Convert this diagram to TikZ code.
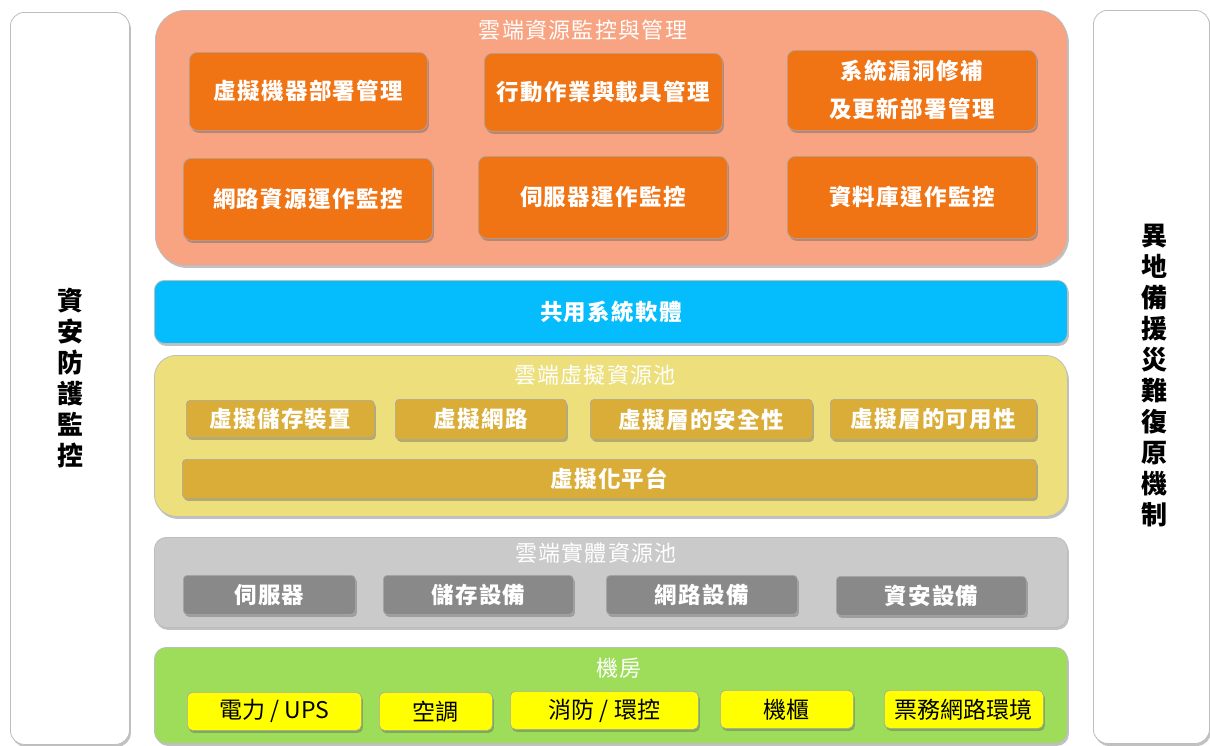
\documentclass[tikz,border=0pt]{standalone}
\usepackage{fontspec}
\newfontfamily\cjk[LetterSpace=6]{Noto Sans CJK TC}
\newfontfamily\cjkplain{Noto Sans CJK TC}
\usetikzlibrary{shadows}
\definecolor{panelline}{HTML}{BDBDBD}
\definecolor{boxline}{HTML}{A8A8A8}
\definecolor{mgmtouter}{HTML}{F8A381}
\definecolor{mgmtinner}{HTML}{F07414}
\definecolor{sharedsw}{HTML}{05BCFC}
\definecolor{virtouter}{HTML}{ECDF7C}
\definecolor{virtinner}{HTML}{D9AD37}
\definecolor{physouter}{HTML}{CACACA}
\definecolor{physinner}{HTML}{898989}
\definecolor{roomouter}{HTML}{9DDD5A}
\definecolor{roominner}{HTML}{FFFF00}
\tikzset{
  shade box/.style={drop shadow={shadow xshift=1.5pt,shadow yshift=-2.5pt,opacity=0.35,fill=black!70}},
  panel/.style={draw=panelline,line width=0.8pt,shade box,inner sep=0,anchor=north west},
  tile/.style={draw=boxline,line width=0.7pt,rounded corners=8pt,shade box,inner sep=0,
    anchor=north west,font=\cjk\bfseries\fontsize{22.5}{26}\selectfont,text=white,align=center},
  roomtile/.style={tile,fill=roominner,text=black,rounded corners=5pt,
    font=\cjkplain\fontsize{23}{27}\selectfont},
  paneltitle/.style={text=white,font=\cjk\fontsize{22}{26}\selectfont,inner sep=0},
  sidetext/.style={font=\cjk\bfseries\fontsize{26}{31}\selectfont,align=center,inner sep=0}
}
\begin{document}
\begin{tikzpicture}[x=1pt,y=-1pt]
\useasboundingbox (0,0) rectangle (1210,745);
% side columns
\node[panel,fill=white,rounded corners=14pt,minimum width=119pt,minimum height=732pt] (secbox) at (10,12) {};
\node[panel,fill=white,rounded corners=14pt,minimum width=116pt,minimum height=733pt] (drbox) at (1093,10) {};
\node[sidetext] (sectext) at (70,378) {資\\安\\防\\護\\監\\控};
\node[sidetext] (drtext) at (1154,376) {異\\地\\備\\援\\災\\難\\復\\原\\機\\制};
% cloud resource monitoring and management
\node[panel,fill=mgmtouter,rounded corners=30pt,minimum width=912pt,minimum height=255pt] (mgmt) at (155,10) {};
\node[paneltitle] (mgmttitle) at (583,30) {雲端資源監控與管理};
\node[tile,fill=mgmtinner,minimum width=238pt,minimum height=78pt] (vmdeploy) at (189,52) {虛擬機器部署管理};
\node[tile,fill=mgmtinner,minimum width=238pt,minimum height=78pt] (mobile) at (484,53) {行動作業與載具管理};
\node[tile,fill=mgmtinner,minimum width=249pt,minimum height=80pt,font=\cjk\bfseries\fontsize{22.5}{38}\selectfont] (patch) at (787,50) {系統漏洞修補\\及更新部署管理};
\node[tile,fill=mgmtinner,minimum width=249pt,minimum height=82pt] (netmon) at (183,158) {網路資源運作監控};
\node[tile,fill=mgmtinner,minimum width=249pt,minimum height=82pt] (srvmon) at (478,156) {伺服器運作監控};
\node[tile,fill=mgmtinner,minimum width=249pt,minimum height=82pt] (dbmon) at (787,156) {資料庫運作監控};
% shared system software
\node[panel,fill=sharedsw,rounded corners=10pt,minimum width=913pt,minimum height=63pt,
  font=\cjk\bfseries\fontsize{22.5}{26}\selectfont,text=white] (shared) at (154,280) {共用系統軟體};
% cloud virtual resource pool
\node[panel,fill=virtouter,rounded corners=22pt,minimum width=913pt,minimum height=161pt] (virt) at (154,355) {};
\node[paneltitle] (virttitle) at (595,375) {雲端虛擬資源池};
\node[tile,fill=virtinner,rounded corners=4pt,minimum width=188pt,minimum height=37pt] (vstore) at (186,400) {虛擬儲存裝置};
\node[tile,fill=virtinner,rounded corners=4pt,minimum width=171pt,minimum height=40pt] (vnet) at (395,399) {虛擬網路};
\node[tile,fill=virtinner,rounded corners=4pt,minimum width=222pt,minimum height=40pt] (vsec) at (590,399) {虛擬層的安全性};
\node[tile,fill=virtinner,rounded corners=4pt,minimum width=206pt,minimum height=40pt] (vavail) at (830,399) {虛擬層的可用性};
\node[tile,fill=virtinner,rounded corners=4pt,minimum width=854pt,minimum height=39pt] (vplat) at (182,459) {虛擬化平台};
% cloud physical resource pool
\node[panel,fill=physouter,rounded corners=12pt,minimum width=913pt,minimum height=90pt] (phys) at (154,537) {};
\node[paneltitle] (phystitle) at (596,553) {雲端實體資源池};
\node[tile,fill=physinner,rounded corners=4pt,minimum width=172pt,minimum height=39pt] (server) at (183,575) {伺服器};
\node[tile,fill=physinner,rounded corners=4pt,minimum width=190pt,minimum height=39pt] (storage) at (383,575) {儲存設備};
\node[tile,fill=physinner,rounded corners=4pt,minimum width=191pt,minimum height=39pt] (network) at (606,575) {網路設備};
\node[tile,fill=physinner,rounded corners=4pt,minimum width=190pt,minimum height=39pt] (security) at (836,576) {資安設備};
% machine room
\node[panel,fill=roomouter,rounded corners=12pt,minimum width=913pt,minimum height=96pt] (room) at (154,647) {};
\node[paneltitle] (roomtitle) at (619,668) {機房};
\node[roomtile,minimum width=174pt,minimum height=38pt] (power) at (187,692) {電力 / UPS};
\node[roomtile,minimum width=113pt,minimum height=38pt] (aircon) at (379,692) {空調};
\node[roomtile,minimum width=188pt,minimum height=38pt] (fire) at (510,691) {消防 / 環控};
\node[roomtile,minimum width=133pt,minimum height=38pt] (rack) at (720,690) {機櫃};
\node[roomtile,minimum width=159pt,minimum height=38pt] (ticket) at (884,690) {票務網路環境};
\end{tikzpicture}
\end{document}
